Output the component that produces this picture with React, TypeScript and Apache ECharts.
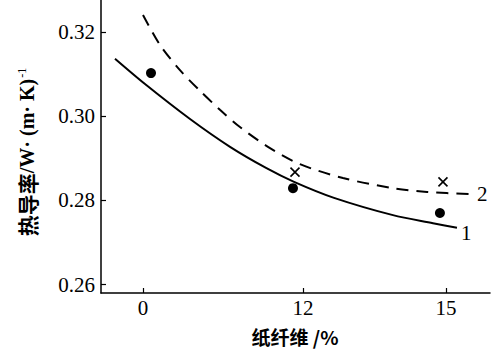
import React, { useEffect, useRef } from "react";
import * as echarts from "echarts";

// x axis is drawn in "tick step" units (the original axis is not to scale)
const xTickAt = [0, 1, 1.894];
const xTickLabels = ["0", "12", "15"];
const yTicks = [0.26, 0.28, 0.3, 0.32];

const curve1X = [-0.175, 0.0125, 0.294, 0.544, 0.769, 0.944, 1.194, 1.5625, 1.8125, 1.9625];
const curve1Y = [0.3136, 0.3076, 0.2993, 0.2927, 0.2877, 0.2844, 0.2806, 0.2765, 0.2746, 0.2735];

const curve2X = [0, 0.106, 0.231, 0.356, 0.481, 0.606, 0.794, 0.981, 1.25, 1.5625, 1.775, 2.056];
const curve2Y = [0.324, 0.3169, 0.3109, 0.306, 0.3015, 0.2974, 0.2924, 0.2886, 0.2853, 0.2829, 0.282, 0.2815];

const dotsX = [0.05, 0.9375, 1.856];
const dotsY = [0.3102, 0.2829, 0.277];

const crossX = [0.95, 1.875];
const crossY = [0.2867, 0.2844];

const xTitle = "纸纤维 /%";
const yTitleCn = "热导率";
const yTitleUnit = "/W· (m· K)";
const yTitleSup = "-1";

const zip = (xs: number[], ys: number[]) => xs.map((x, i) => [x, ys[i]]);

export default function App() {
  const ref = useRef<HTMLDivElement>(null);
  useEffect(() => {
    if (!ref.current) return;
    const chart = echarts.init(ref.current, undefined, { renderer: "svg" });
    const serif = "'Liberation Serif', 'DejaVu Serif', serif";
    chart.setOption({
      animation: false,
      backgroundColor: "#fff",
      grid: { left: 101, top: 0, right: 5, bottom: 58 },
      xAxis: {
        type: "value",
        min: -0.2625,
        max: 2.169,
        splitLine: { show: false },
        axisLine: { show: true, onZero: false, lineStyle: { color: "#000", width: 1.5 } },
        axisTick: {
          show: true,
          inside: true,
          length: 5,
          customValues: xTickAt,
          lineStyle: { color: "#000", width: 1.2 },
        },
        axisLabel: {
          customValues: xTickAt,
          color: "#000",
          fontFamily: serif,
          fontSize: 21,
          margin: 4,
          formatter: (v: number) => {
            let best = 0;
            xTickAt.forEach((t, i) => {
              if (Math.abs(t - v) < Math.abs(xTickAt[best] - v)) best = i;
            });
            return xTickLabels[best];
          },
        },
      },
      yAxis: {
        type: "value",
        min: 0.25803,
        max: 0.32754,
        splitLine: { show: false },
        axisLine: { show: true, onZero: false, lineStyle: { color: "#000", width: 1.5 } },
        axisTick: {
          show: true,
          inside: true,
          length: 5,
          customValues: yTicks,
          lineStyle: { color: "#000", width: 1.2 },
        },
        axisLabel: {
          customValues: yTicks,
          color: "#000",
          fontFamily: serif,
          fontSize: 21,
          margin: 6,
          formatter: (v: number) => v.toFixed(2),
        },
      },
      graphic: [
        {
          type: "text",
          x: 295,
          y: 336,
          style: {
            text: xTitle,
            fill: "#000",
            font: "bold 19px 'Noto Sans CJK SC', sans-serif",
            align: "center",
            verticalAlign: "middle",
          },
        },
        {
          type: "text",
          x: 27,
          y: 152,
          rotation: Math.PI / 2,
          style: {
            text: `{cn|${yTitleCn}}{u|${yTitleUnit}}{sup|${yTitleSup}}`,
            fill: "#000",
            align: "center",
            verticalAlign: "middle",
            rich: {
              cn: { font: "bold 21px 'Noto Sans CJK SC', sans-serif", fill: "#000" },
              u: { font: "bold 20px 'Liberation Serif', serif", fill: "#000" },
              sup: {
                font: "12px 'Liberation Serif', serif",
                fill: "#000",
                verticalAlign: "top",
                padding: [0, 0, 10, 1],
              },
            },
          },
        },
      ],
      series: [
        {
          type: "line",
          data: zip(curve1X, curve1Y),
          smooth: 0.3,
          symbol: "none",
          lineStyle: { color: "#000", width: 2 },
          endLabel: {
            show: true,
            formatter: "1",
            color: "#000",
            fontFamily: serif,
            fontSize: 21,
            distance: 4,
            offset: [0, 5],
          },
        },
        {
          type: "line",
          data: zip(curve2X, curve2Y),
          smooth: 0.3,
          symbol: "none",
          lineStyle: { color: "#000", width: 2, type: [12, 8] },
          endLabel: {
            show: true,
            formatter: "2",
            color: "#000",
            fontFamily: serif,
            fontSize: 21,
            distance: 5,
          },
        },
        {
          type: "scatter",
          data: zip(dotsX, dotsY),
          symbol: "circle",
          symbolSize: 10,
          itemStyle: { color: "#000", opacity: 1 },
        },
        {
          type: "scatter",
          data: zip(crossX, crossY),
          symbol: "path://M0,0L10,10M10,0L0,10",
          symbolSize: 9,
          itemStyle: { color: "none", borderColor: "#000", borderWidth: 1.6, opacity: 1 },
        },
      ],
    });
    return () => chart.dispose();
  }, []);
  return (
    <div
      ref={ref}
      style={{ position: "absolute", left: 0, top: 0, width: 495, height: 351, background: "#fff" }}
    />
  );
}
